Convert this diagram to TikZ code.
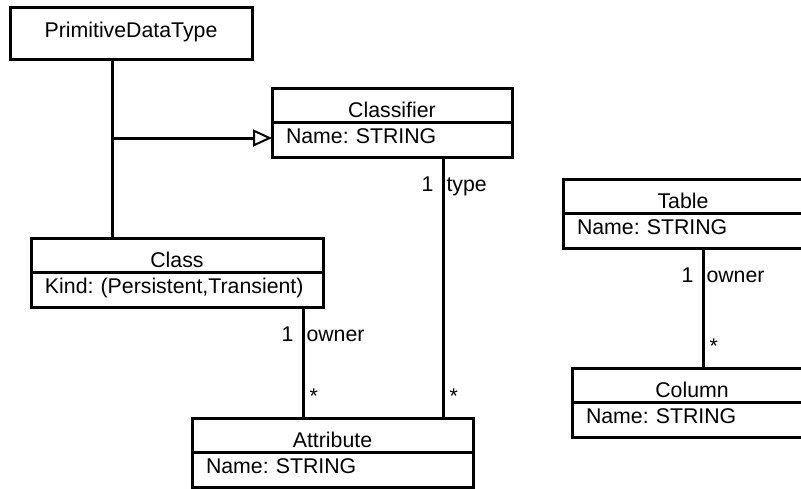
\documentclass[tikz,border=0pt]{standalone}
\usepackage{fontspec}
\setmainfont{Liberation Sans}
\usetikzlibrary{
  arrows.meta,
  positioning,
  calc
}
\newcommand{\umlFont}{\fontsize{21.3pt}{25pt}\selectfont\frenchspacing}
\tikzset{
  umlBox/.style={
    draw,
    line width=3pt,
    inner sep=0pt,
    outer sep=0pt,
    font=\umlFont
  }
}
\tikzset{
  classTitle/.style={
    umlBox,
    minimum height=34pt,
    text height=25pt,
    text depth=0pt
  }
}
\tikzset{
  classBody/.style={
    umlBox,
    minimum height=35pt,
    inner xsep=14pt,
    align=left,
    text height=15.5pt,
    text depth=8pt
  }
}
\tikzset{
  assoc/.style={line width=3pt},
  multOne/.style={pos=0, anchor=base east, xshift=-8pt, yshift=-34pt, inner sep=0pt, font=\umlFont},
  roleName/.style={pos=0, anchor=base west, xshift=2pt, yshift=-34pt, inner sep=0pt, font=\umlFont},
  multMany/.style={pos=1, anchor=base west, xshift=5pt, yshift=15pt, inner sep=0pt, font=\umlFont}
}

\begin{document}
\begin{tikzpicture}[x=1pt, y=-1pt]
    \useasboundingbox (0,0) rectangle (801,488);
    \clip (0,0) rectangle (801,488);
    \node[umlBox, minimum width=242pt, minimum height=52pt,
      text height=15.5pt, text depth=6pt, anchor=north west] (prim) at (10,7) {PrimitiveDataType};
    \node[classTitle, minimum width=240pt, anchor=north west] (clsfTitle) at (272,88) {Classifier};
    \node[classBody, text width=212pt, below=0pt of clsfTitle] (clsfBody) {Name: STRING};
    \node[classTitle, minimum width=292pt, anchor=north west] (clsTitle) at (31,238) {Class};
    \node[classBody, text width=264pt, below=0pt of clsTitle] (clsBody) {Kind: (Persistent,Transient)};
    \node[classTitle, minimum width=281pt, anchor=north west] (attrTitle) at (192,418) {Attribute};
    \node[classBody, text width=253pt, below=0pt of attrTitle] (attrBody) {Name: STRING};
    \node[classTitle, minimum width=240pt, anchor=north west] (tblTitle) at (563,179) {Table};
    \node[classBody, text width=212pt, below=0pt of tblTitle] (tblBody) {Name: STRING};
    \node[classTitle, minimum width=240pt, anchor=north west] (colTitle) at (572,368) {Column};
    \node[classBody, text width=212pt, below=0pt of colTitle] (colBody) {Name: STRING};
    % where the connectors leave the boxes
    \coordinate (genJoin) at (112,138);
    \coordinate (ownerX) at (303,0);
    \coordinate (typeX) at (443,0);
    \coordinate (colX) at (703,0);
    \draw[assoc] (prim.south -| genJoin) -- (clsTitle.north -| genJoin);
    \draw[assoc, -{Triangle[open, length=19pt, width=17pt, line width=2pt]}]
    (genJoin) -- (genJoin -| clsfBody.west);
    \draw[assoc] (clsBody.south -| ownerX) -- (attrTitle.north -| ownerX)
    node[multOne] {1} node[roleName] {owner} node[multMany] {*};
    \draw[assoc] (clsfBody.south -| typeX) -- (attrTitle.north -| typeX)
    node[multOne] {1} node[roleName] {type} node[multMany] {*};
    \draw[assoc] (tblBody.south -| colX) -- (colTitle.north -| colX)
    node[multOne] {1} node[roleName] {owner} node[multMany] {*};
  \end{tikzpicture}
\end{document}
